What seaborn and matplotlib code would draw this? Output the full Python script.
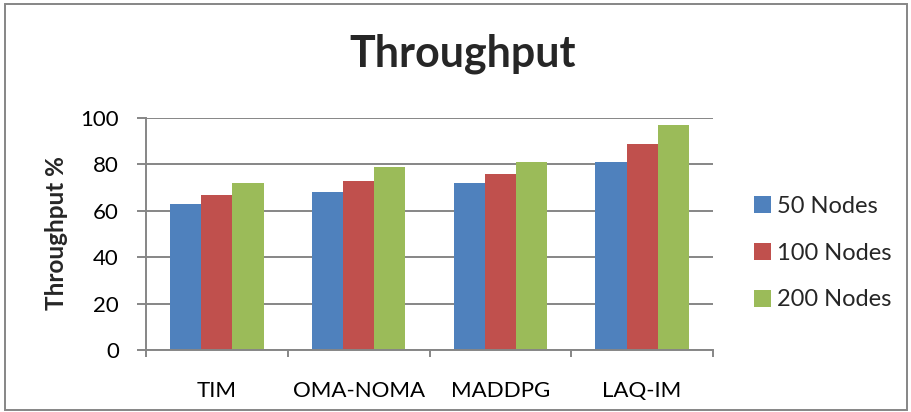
import matplotlib
matplotlib.use("Agg")
import matplotlib.pyplot as plt
import seaborn as sns
import pandas as pd
from matplotlib.patches import Rectangle

categories = ["TIM", "OMA-NOMA", "MADDPG", "LAQ-IM"]
series_names = ["50 Nodes", "100 Nodes", "200 Nodes"]
nodes_50 = [63, 68, 72, 81]
nodes_100 = [67, 73, 76, 89]
nodes_200 = [72, 79, 81, 97]
y_ticks = [0, 20, 40, 60, 80, 100]
colors = ["#4F81BD", "#C0504D", "#9BBB59"]

rows = []
for name, vals in zip(series_names, [nodes_50, nodes_100, nodes_200]):
    for c, v in zip(categories, vals):
        rows.append({"Method": c, "Series": name, "Value": v})
df = pd.DataFrame(rows)

sns.set_theme(style="white")
plt.rcParams["font.family"] = ["Lato", "DejaVu Sans"]

fig = plt.figure(figsize=(9.11, 4.12), dpi=100)
ax = fig.add_axes([146/911, 1-350/412, (713-146)/911, (350-118)/412])

sns.barplot(data=df, x="Method", y="Value", hue="Series", order=categories,
            hue_order=series_names, palette=colors, width=0.66, gap=0,
            saturation=1, linewidth=0, edgecolor="none", ax=ax, errorbar=None)

ax.set_ylim(0, 100)
ax.set_xlim(-0.5, 3.5)
ax.set_yticks(y_ticks)
ax.set_yticklabels([str(t) for t in y_ticks])
ax.set_xlabel("")
ax.set_ylabel("")
ax.grid(axis="y", color="#868686", linewidth=1.4)
ax.set_axisbelow(True)
for s in ["top", "right"]:
    ax.spines[s].set_visible(False)
for s in ["left", "bottom"]:
    ax.spines[s].set_color("#868686")
    ax.spines[s].set_linewidth(1.4)

ax.tick_params(axis="y", which="major", length=6.5, width=1.4, color="#868686",
               pad=13, labelsize=16, labelcolor="black", left=True)
ax.set_xticks([-0.5, 0.5, 1.5, 2.5, 3.5], minor=True)
ax.tick_params(axis="x", which="minor", length=5, width=1.4, color="#868686", bottom=True)
ax.tick_params(axis="x", which="major", length=0, pad=22, labelsize=16, labelcolor="black")

leg = ax.legend(loc="center left", bbox_to_anchor=(742/911, 1-253/412),
                bbox_transform=fig.transFigure, frameon=False, fontsize=17,
                handlelength=0.72, handleheight=0.72, handletextpad=0.25,
                labelspacing=1.1, borderpad=0)

fig.text(463/911, 1-67/412, "Throughput", ha="center", va="baseline",
         fontsize=31, fontweight="bold")
fig.text(57/911, 1-233/412, "Throughput %", ha="center", va="center",
         rotation=90, fontsize=17.5, fontweight="bold")

fig.patches.append(Rectangle((5/911, 2/412), 902/911, 406/412, transform=fig.transFigure,
                             fill=False, edgecolor="#868686", linewidth=1.4))

fig.savefig("out.png", dpi=100)
